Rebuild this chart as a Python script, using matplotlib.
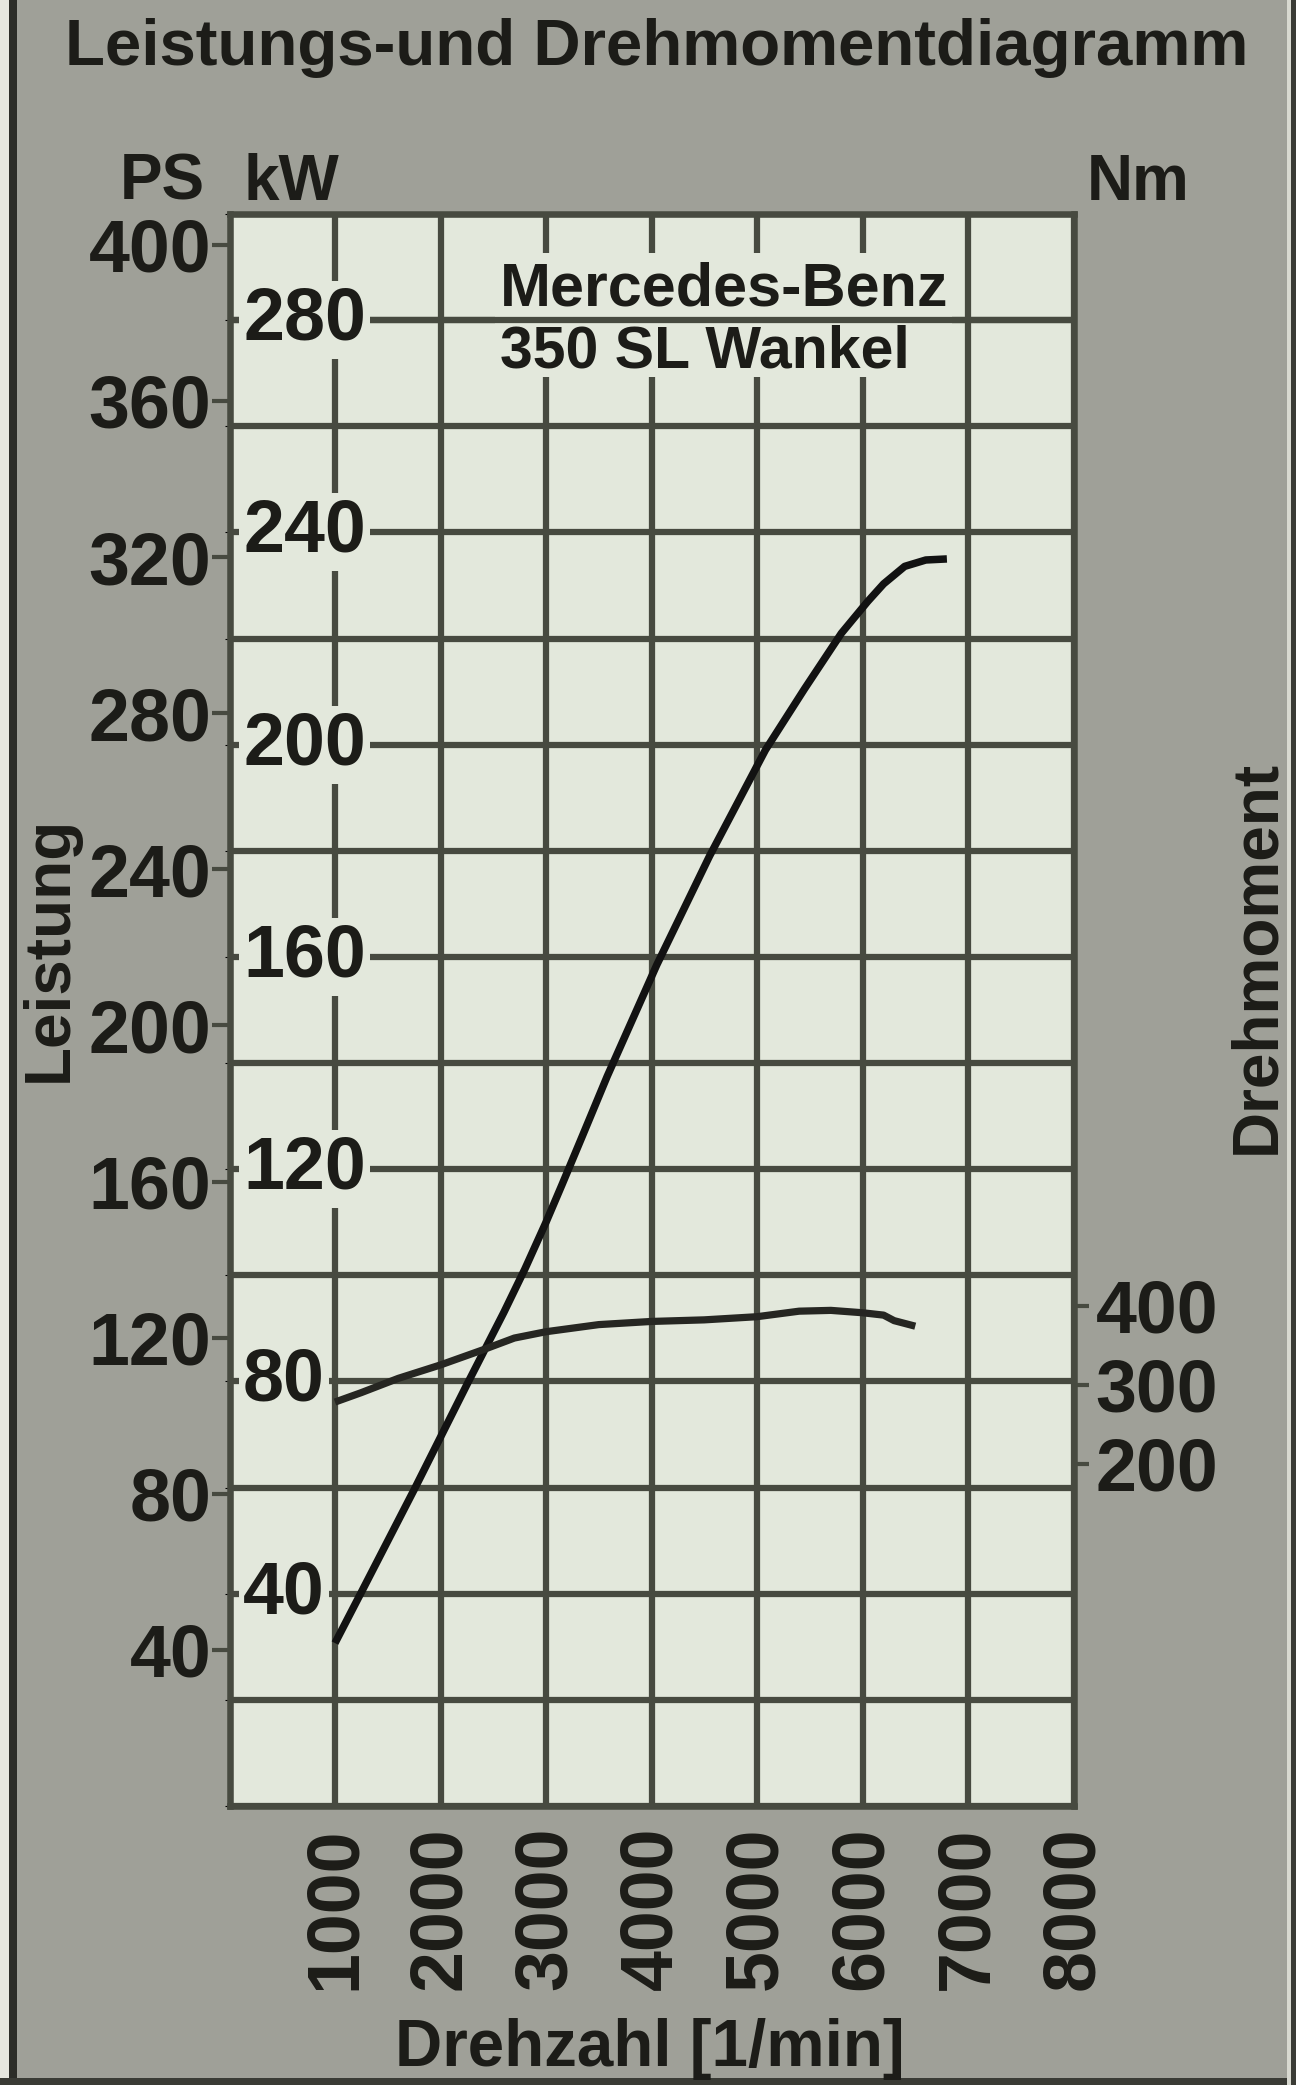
import matplotlib
matplotlib.use('Agg')
import matplotlib.pyplot as plt
from matplotlib.patches import Rectangle
from matplotlib.transforms import blended_transform_factory

# ---------------- data ----------------
rpm_ticks = [1000, 2000, 3000, 4000, 5000, 6000, 7000, 8000]
kw_grid = [0, 20, 40, 60, 80, 100, 120, 140, 160, 180, 200, 220, 240, 260, 280, 300]
kw_label_ticks = [40, 80, 120, 160, 200, 240, 280]
ps_ticks = [40, 80, 120, 160, 200, 240, 280, 320, 360, 400]
nm_ticks = [200, 300, 400]

power_rpm = [1000, 1250, 1750, 2250, 2600, 2800, 3000, 3150, 3350, 3580, 4050,
             4550, 5080, 5450, 5800, 6050, 6200, 6400, 6600, 6800]
power_kw = [30.7, 40.3, 59.6, 79.4, 93, 101.2, 110, 117, 126.5, 137.5, 158.5,
            179, 199, 210.5, 221, 227, 230.3, 233.6, 234.8, 235]

torque_rpm = [1000, 1250, 1600, 2000, 2400, 2700, 3000, 3500, 4000, 4500,
              5000, 5400, 5700, 6000, 6200, 6300, 6500]
torque_nm = [278, 290, 308, 325, 344, 359, 367, 376, 380, 382,
             386, 393, 394, 391, 388, 381, 374]

title = "Leistungs-und Drehmomentdiagramm"
car_line1 = "Mercedes-Benz"
car_line2 = "350 SL Wankel"

KW_TO_PS = 1.35962
NM_LIM = (-233, 1781)

# ---------------- style ----------------
BG = '#9fa098'
PLOT_BG = '#e3e8dc'
GRID = '#474a40'
TXT = '#1c1c18'
CURVE = '#121212'
plt.rcParams['font.family'] = ['Liberation Sans', 'DejaVu Sans']
plt.rcParams['font.weight'] = 'bold'

W, H, DPI = 1296, 2085, 100
fig = plt.figure(figsize=(W / DPI, H / DPI), dpi=DPI, facecolor=BG)


def fx(px):
    return px / W


def fy(py):
    return 1 - py / H


# frame decorations
fig.add_artist(Rectangle((0, 0), fx(9), 1, transform=fig.transFigure, fc='#e6e7df', ec='none'))
fig.add_artist(Rectangle((fx(9), 0), fx(8), 1, transform=fig.transFigure, fc='#2c2d28', ec='none'))
fig.add_artist(Rectangle((0, 0), 1, 7 / H, transform=fig.transFigure, fc='#3a3b35', ec='none'))
fig.add_artist(Rectangle((fx(1287), 0), fx(4), 1, transform=fig.transFigure, fc='#d8d9d0', ec='none'))
fig.add_artist(Rectangle((fx(1291), 0), fx(5), 1, transform=fig.transFigure, fc='#3a3b35', ec='none'))

L, R, T, B = 229.5, 1073.5, 214, 1806
ax = fig.add_axes([fx(L), fy(B), (R - L) / W, (B - T) / H])
ax.set_facecolor(PLOT_BG)
ax.set_xlim(0, 8000)
ax.set_ylim(kw_grid[0], kw_grid[-1])
ax.set_xticks(rpm_ticks)
ax.set_xticklabels([str(v) for v in rpm_ticks], rotation=90, fontsize=53, color=TXT)
ax.set_yticks(kw_grid)
ax.tick_params(axis='y', left=False, labelleft=False)
ax.tick_params(axis='x', length=0, pad=15)
ax.set_axisbelow(True)
ax.grid(True, color=GRID, linewidth=4.5)
for s in ax.spines.values():
    s.set_color(GRID)
    s.set_linewidth(4.7)

# PS axis (left, outside)
sec = ax.secondary_yaxis('left', functions=(lambda k: k * KW_TO_PS, lambda p: p / KW_TO_PS))
sec.set_yticks(ps_ticks)
sec.set_yticklabels([str(v) for v in ps_ticks])
sec.tick_params(length=12, width=3, color=GRID, pad=1, labelsize=53, labelcolor=TXT)
sec.spines['left'].set_visible(False)

# kW labels inside the plot
tr = blended_transform_factory(ax.transAxes, ax.transData)
for v in kw_label_ticks:
    ax.text((243 - L) / (R - L), v, str(v), transform=tr, ha='left', va='center',
            fontsize=53, color=TXT, zorder=2.6,
            bbox=dict(boxstyle='square,pad=0.06', fc=PLOT_BG, ec='none'))

# box behind model name, horizontal line through it
ax.add_patch(Rectangle((fx(495), fy(377)), (952 - 495) / W, (377 - 253) / H,
                       transform=fig.transFigure, fc=PLOT_BG, ec='none', zorder=1))
ax.axhline(280, color=GRID, linewidth=4.5, zorder=1.5)
fig.text(fx(500), fy(305), car_line1, fontsize=44, color=TXT, ha='left', va='baseline', zorder=5)
fig.text(fx(500), fy(368), car_line2, fontsize=42.5, color=TXT, ha='left', va='baseline', zorder=5)

# power curve
ax.plot(power_rpm, power_kw, color=CURVE, linewidth=5.4, solid_joinstyle='round',
        solid_capstyle='butt', zorder=4)

# torque axis (right)
ax_nm = ax.twinx()
ax_nm.set_ylim(*NM_LIM)
ax_nm.set_yticks(nm_ticks)
ax_nm.set_yticklabels([str(v) for v in nm_ticks])
ax_nm.tick_params(axis='y', length=11, width=3, color=GRID, pad=5, labelsize=53, labelcolor=TXT)
for s in ax_nm.spines.values():
    s.set_visible(False)
ax_nm.plot(torque_rpm, torque_nm, color='#262622', linewidth=5.2, solid_joinstyle='round',
           solid_capstyle='butt', zorder=4)

# texts
t_title = fig.text(fx(657), fy(65), title, fontsize=47, color=TXT, ha='center', va='baseline')
fig.text(fx(120), fy(200), "PS", fontsize=46, color=TXT, ha='left', va='baseline')
fig.text(fx(244), fy(200), "kW", fontsize=46, color=TXT, ha='left', va='baseline')
fig.text(fx(1087), fy(200), "Nm", fontsize=46, color=TXT, ha='left', va='baseline')
fig.text(fx(50), fy(949), "Leistung", fontsize=46, color=TXT, ha='center', va='center', rotation=90)
fig.text(fx(1257), fy(957), "Drehmoment", fontsize=46, color=TXT, ha='center', va='center', rotation=90)
t_x = fig.text(fx(650), fy(2066), "Drehzahl [1/min]", fontsize=47, color=TXT, ha='center', va='baseline')


def fit_width(t, target):
    fig.canvas.draw()
    w = t.get_window_extent(fig.canvas.get_renderer()).width
    t.set_fontsize(t.get_fontsize() * target / w)


fit_width(t_title, 1182)
fit_width(t_x, 509)

fig.savefig('out.png', dpi=DPI, facecolor=BG)
